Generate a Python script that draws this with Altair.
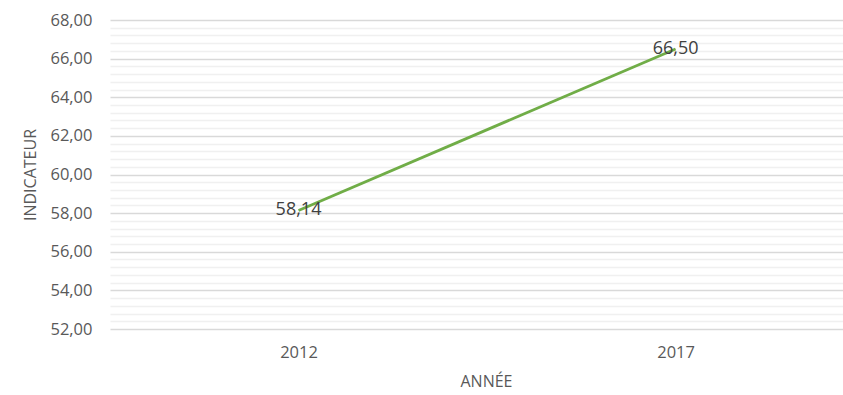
import altair as alt
import pandas as pd

years = [2012, 2017]
values = [58.14, 66.50]
labels = ["58,14", "66,50"]

minor_step = 0.4
y_ticks = [round(52 + minor_step * k, 2) for k in range(41)]

df = pd.DataFrame({"year": years, "value": values, "label": labels})

FONT = "Open Sans"
IS_MAJOR = "abs(datum.value - round(datum.value/2)*2) < 0.01"

x = alt.X("year:Q", title="ANNÉE",
          scale=alt.Scale(domain=[2009.5, 2019.22], nice=False, zero=False),
          axis=alt.Axis(values=years, format="d", grid=False, ticks=False, domain=False,
                        labelPadding=15, titlePadding=13, labelFontSize=16.5, titleFontSize=16,
                        labelColor="#595959", titleColor="#595959", labelFont=FONT, titleFont=FONT,
                        titleFontWeight="normal", titleX=376))
y = alt.Y("value:Q", title="INDICATEUR",
          scale=alt.Scale(domain=[52, 68], nice=False, zero=False),
          axis=alt.Axis(values=y_ticks, tickCount=100, ticks=False, domain=False,
                        labelExpr=IS_MAJOR + " ? replace(format(datum.value, '.2f'), '.', ',') : ''",
                        gridColor=alt.condition(IS_MAJOR, alt.value("#d9d9d9"), alt.value("#f0f0f0")),
                        gridWidth=1.3,
                        labelPadding=18, titlePadding=11, labelFontSize=16.5, titleFontSize=16,
                        labelColor="#595959", titleColor="#595959", labelFont=FONT, titleFont=FONT,
                        titleFontWeight="normal", labelOverlap=False))

line = alt.Chart(df).mark_line(color="#70ad47", strokeWidth=2.8).encode(x=x, y=y)
text = alt.Chart(df).mark_text(fontSize=18, color="#404040", font=FONT,
                               align="center", baseline="middle").encode(
    x="year:Q", y="value:Q", text="label:N")

chart = (line + text).properties(
    width=733, height=309,
    autosize=alt.AutoSizeParams(type="none"),
    padding={"left": 110, "top": 20, "right": 0, "bottom": 66},
).configure(background="white").configure_view(stroke=None)

chart.save("out.html", embed_options={"renderer": "svg", "actions": False})
